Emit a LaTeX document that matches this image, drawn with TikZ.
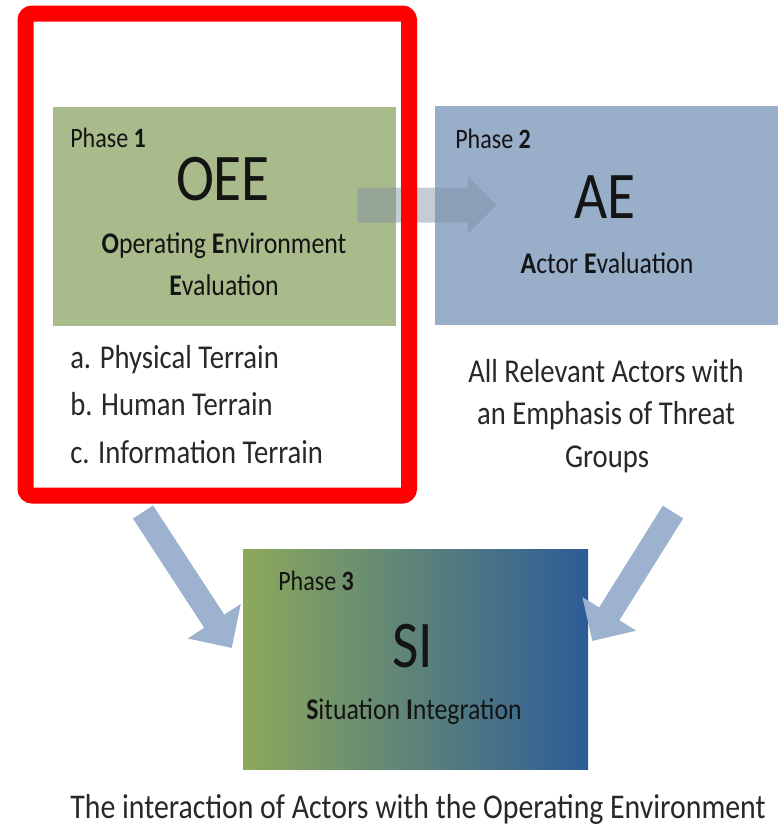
\documentclass[tikz,border=0pt]{standalone}
\usepackage{fontspec}
\setmainfont{Carlito}[FakeStretch=0.86]
\usetikzlibrary{arrows.meta,positioning}

\definecolor{oeegreen}{RGB}{169,187,139}
\definecolor{aeblue}{RGB}{153,174,201}
\definecolor{sigreen}{RGB}{141,169,91}
\definecolor{siblue}{RGB}{44,92,152}
\definecolor{flowblue}{RGB}{157,178,206}
\definecolor{ink}{RGB}{20,20,20}
\definecolor{greyink}{RGB}{40,40,40}

\begin{document}
\begin{tikzpicture}[x=0.75pt, y=-0.75pt,
    box/.style={minimum width=257.25pt, minimum height=164.25pt, inner sep=0pt},
    tag/.style={anchor=base west, inner sep=0pt, text=ink, font=\fontsize{21}{25}\selectfont},
    acro/.style={anchor=base, inner sep=0pt, text=ink, font=\fontsize{50}{60}\selectfont},
    sub/.style={anchor=base, inner sep=0pt, text=ink, font=\fontsize{22.5}{27}\selectfont},
    bodytext/.style={inner sep=0pt, text=greyink, font=\fontsize{25}{30}\selectfont},
    flow/.style={draw=flowblue, line width=18pt, -{Triangle[length=24pt,width=46pt]}}]
    \useasboundingbox (0,0) rectangle (781,825);

   % phase boxes
   \node[box, fill=oeegreen] (oee) at (224.5,216.5) {};
   \node[box, fill=aeblue] (ae) at (606.5,215.5) {};
   \node[box, minimum width=258.75pt, minimum height=165pt,
         left color=sigreen, right color=siblue] (si) at (415.5,659) {};

   % phase 1
   \node[tag] (p1) at (70,147) {Phase \textbf{1}};
   \node[acro] (oee_t) at (223,200) {OEE};
   \node[sub] (oee_s1) at (224,253) {\textbf{O}perating \textbf{E}nvironment};
   \node[sub] (oee_s2) at (224,295) {\textbf{E}valuation};
   \node[bodytext, anchor=base west] (terr_a) at (70,368) {a. Physical Terrain};
   \node[bodytext, anchor=base west] (terr_b) at (70,415) {b. Human Terrain};
   \node[bodytext, anchor=base west] (terr_c) at (70,463) {c. Information Terrain};

   % phase 2
   \node[tag] (p2) at (455,148) {Phase \textbf{2}};
   \node[acro] (ae_t) at (605,218) {AE};
   \node[sub] (ae_s) at (607,273) {\textbf{A}ctor \textbf{E}valuation};
   \node[bodytext, anchor=base] (act_a) at (606,382) {All Relevant Actors with};
   \node[bodytext, anchor=base] (act_b) at (606,424) {an Emphasis of Threat};
   \node[bodytext, anchor=base] (act_c) at (607,467) {Groups};

   % phase 3
   \node[tag] (p3) at (278,590) {Phase \textbf{3}};
   \node[acro] (si_t) at (413,667) {SI};
   \node[sub] (si_s) at (414,719) {\textbf{S}ituation \textbf{I}ntegration};
   \node[bodytext, anchor=base, font=\fontsize{26}{30}\selectfont] (caption) at (418,818)
        {The interaction of Actors with the Operating Environment};

   % arrows
   \coordinate (h0) at ([shift={(-39,-11.5)}]oee.east);
   \coordinate (h1) at ([shift={(62,-10.5)}]ae.west);
   \fill[flowblue!80!black, opacity=.45]
        ([shift={(0,-17.5)}]h0) -- ([shift={(-29,-17.5)}]h1) -- ([shift={(-29,-29)}]h1)
        -- (h1) -- ([shift={(-29,29)}]h1) -- ([shift={(-29,17.5)}]h1)
        -- ([shift={(0,17.5)}]h0) -- cycle;

   \coordinate (l0) at (143,512);
   \coordinate (r0) at (673,512);
   \draw[flow] (l0) -- ([shift={(-11,-11)}]si.west);
   \draw[flow] (r0) -- ([shift={(4,-18)}]si.east);

   % highlight frame
   \draw[red, line width=12pt, rounded corners=5pt] (25.5,13.5) rectangle (409,495.5);

\end{tikzpicture}
\end{document}
